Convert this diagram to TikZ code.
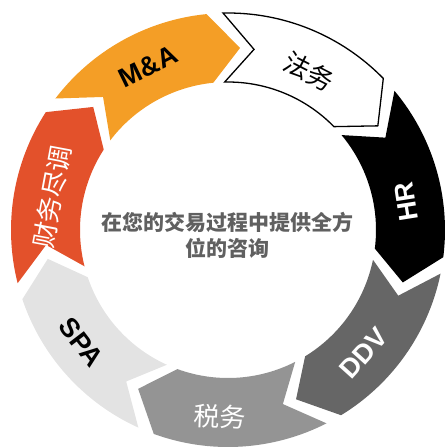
\documentclass[tikz,border=0pt]{standalone}
\usepackage{fontspec}
\setmainfont{Liberation Sans}
\newfontfamily\cjk{Noto Sans CJK SC}
\usepackage{tikz}

\definecolor{maorange}{RGB}{244,158,38}
\definecolor{fdred}{RGB}{227,81,43}
\definecolor{ddvgray}{RGB}{102,102,102}
\definecolor{taxgray}{RGB}{148,148,148}
\definecolor{spagray}{RGB}{227,227,227}
\definecolor{hubtext}{RGB}{96,96,96}

\newcommand{\Rout}{217pt}
\newcommand{\Rin}{148pt}
\newcommand{\Rmid}{182.5pt}
\newcommand{\tipdepth}{9.5}
% #1 start angle (notch), #2 end angle (tip), #3 style
\newcommand{\ringarrow}[3]{%
  \path[#3] (#1:\Rout) arc[start angle=#1, end angle=#2, radius=\Rout]
    -- ({#2-\tipdepth}:\Rmid) -- (#2:\Rin)
    arc[start angle=#2, end angle=#1, radius=\Rin]
    -- ({#1-\tipdepth}:\Rmid) -- cycle;}

\begin{document}
\begin{tikzpicture}[x=1pt, y=1pt,
  seg/.style={fill=#1, draw=none},
  lbl/.style={font=\fontsize{27}{27}\selectfont\bfseries, inner sep=0pt},
  cjklbl/.style={font=\fontsize{26}{26}\selectfont\cjk, inner sep=0pt},
  hubtxt/.style={font=\fontsize{21}{26}\selectfont\cjk\bfseries, text=hubtext,
    align=center, inner sep=0pt}
]
\useasboundingbox (-228,-218) rectangle (218,230);

% ring segments, clockwise from top-left
\ringarrow{142.7}{95.7}{seg=maorange}
\ringarrow{91.3}{44.3}{fill=white, draw=black, line width=1.3pt, line join=miter}
\ringarrow{39.9}{-7.2}{seg=black}
\ringarrow{-11.6}{-58.6}{seg=ddvgray}
\ringarrow{-63.0}{-110.0}{seg=taxgray}
\ringarrow{-114.4}{-161.4}{seg=spagray}
\ringarrow{194.2}{147.1}{seg=fdred}

% labels on the ring
\node[lbl, rotate=26] (ma) at (116:182pt) {M\&A};
\node[cjklbl, rotate=-27] (legal) at (63:178pt) {法务};
\node[lbl, text=white, rotate=99] (hr) at (9:181pt) {HR};
\node[lbl, text=white, rotate=48] (ddv) at (-42.3:183pt) {DDV};
\node[cjklbl, text=white, rotate=-2.4] (tax) at (-92.4:187pt) {税务};
\node[lbl, rotate=-52.6] (spa) at (-142.6:185pt) {SPA};
\node[cjklbl, text=white, rotate=79.4] (fdd) at (169.4:179pt) {财务尽调};

% centre text
\node[hubtxt] (hub) at (0,-5) {在您的交易过程中提供全方\\位的咨询};
\end{tikzpicture}
\end{document}
